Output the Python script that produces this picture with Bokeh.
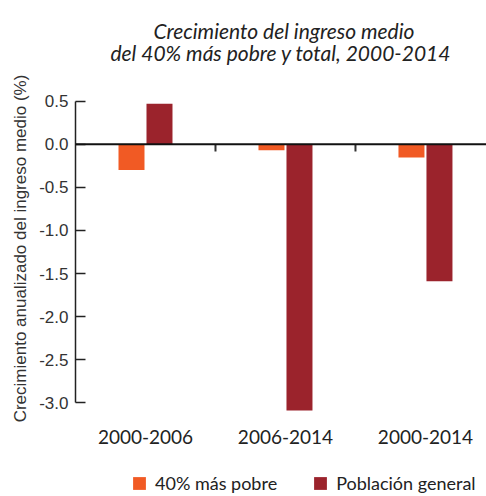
from bokeh.plotting import figure
from bokeh.models import (Range1d, FixedTicker, LinearAxis, Legend, LegendItem,
                          ColumnDataSource, Span)
from bokeh.core.properties import value
from bokeh.embed import file_html
from bokeh.resources import INLINE

categories = ["2000-2006", "2006-2014", "2000-2014"]
series_names = ["40% más pobre", "Población general"]
pobre = [-0.30, -0.07, -0.155]
general = [0.47, -3.09, -1.59]
colors = ["#F15A24", "#9B232C"]
y_ticks = [0.5, 0.0, -0.5, -1.0, -1.5, -2.0, -2.5, -3.0]
title_lines = ["Crecimiento del ingreso medio", "del 40% más pobre y total, 2000-2014"]
y_label = "Crecimiento anualizado del ingreso medio (%)"

ORANGE, RED = colors
LATO = "Lato"
ARIAL = "Liberation Sans"
TXT = "#222222"

pos = [i + 0.5 for i in range(len(categories))]
bw = 0.1857
off = 0.1

p = figure(width=486, height=496, output_backend="svg", toolbar_location=None,
           x_range=Range1d(0, 2.936), y_range=Range1d(-4.087, 1.668),
           x_axis_type=None, y_axis_type=None,
           min_border_left=75, min_border_right=0, min_border_top=0, min_border_bottom=0)
p.outline_line_color = None
p.xgrid.visible = False
p.ygrid.visible = False

src1 = ColumnDataSource(dict(x=[x - off for x in pos], top=pobre))
src2 = ColumnDataSource(dict(x=[x + off for x in pos], top=general))
r1 = p.vbar(x="x", top="top", bottom=0, width=bw, source=src1, fill_color=ORANGE, line_color=None)
r2 = p.vbar(x="x", top="top", bottom=0, width=bw, source=src2, fill_color=RED, line_color=None)

# zero line and group boundary ticks
p.add_layout(Span(location=0, dimension="width", line_color="#111111", line_width=2))
bounds_x = [float(i) for i in range(1, len(categories))]
p.segment(x0=bounds_x, x1=bounds_x, y0=[0] * len(bounds_x), y1=[-0.085] * len(bounds_x),
          line_color="#333333", line_width=2)

# y axis
yax = LinearAxis(ticker=FixedTicker(ticks=y_ticks), bounds=(min(y_ticks), max(y_ticks)))
yax.axis_label = y_label
yax.axis_label_text_font = ARIAL
yax.axis_label_text_font_style = "normal"
yax.axis_label_text_font_size = "17px"
yax.axis_label_text_color = "#333333"
yax.axis_label_standoff = 6
yax.major_label_text_font = ARIAL
yax.major_label_text_font_size = "17px"
yax.major_label_text_color = "#333333"
yax.major_label_standoff = 7
yax.major_tick_in = 10
yax.major_tick_out = 0
yax.major_tick_line_color = "#222222"
yax.major_tick_line_width = 1.5
yax.minor_tick_line_color = None
yax.axis_line_color = "#222222"
yax.axis_line_width = 1.5
yax.major_label_overrides = {t: f"{t:.1f}" for t in y_ticks}
p.add_layout(yax, "left")

# category labels
p.text(x=pos, y=[min(y_ticks)] * len(pos), text=categories, y_offset=34.4,
       text_align="center", text_baseline="middle",
       text_font=value(LATO), text_font_size="19px", text_color=TXT)

# title
p.text(x=[1.489, 1.468], y=[max(y_ticks)] * 2, text=title_lines, y_offset=[-70.7, -48.7],
       text_align="center", text_baseline="alphabetic",
       text_font=value(LATO), text_font_style="italic", text_font_size="21px", text_color=TXT)

legend = Legend(items=[LegendItem(label=series_names[0], renderers=[r1]),
                       LegendItem(label=series_names[1], renderers=[r2])],
                orientation="horizontal", location=(56, 2),
                label_text_font=LATO, label_text_font_size="18px", label_text_color=TXT,
                glyph_width=16, glyph_height=16, spacing=35, label_standoff=8,
                label_height=16, border_line_color=None, background_fill_alpha=0,
                margin=0, padding=0)
p.add_layout(legend, "center")

open("out.html", "w").write(file_html(p, INLINE))
